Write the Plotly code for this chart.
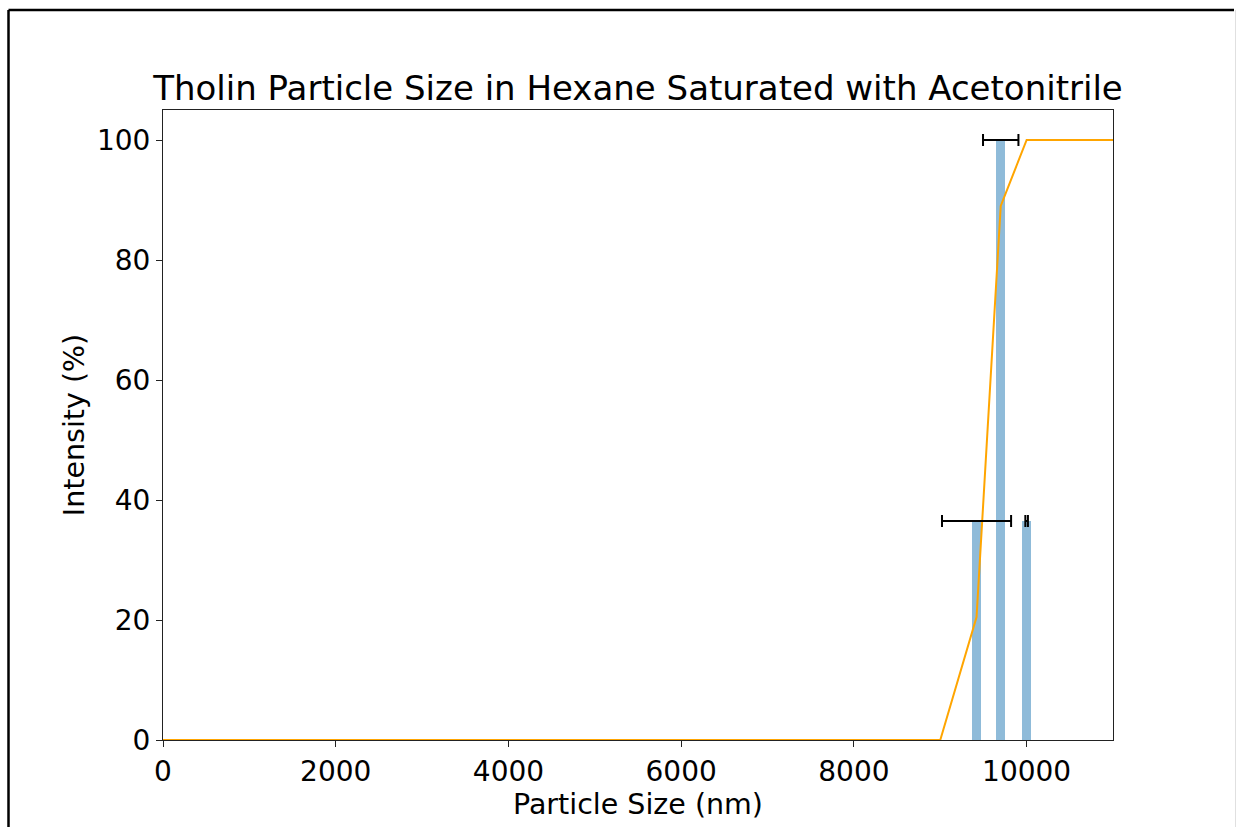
import plotly.graph_objects as go

# Particle size bins (nm) and measured intensity (%)
sizes = [9420, 9700, 10000]
intensity = [36.5, 100, 36.5]
size_err = [400, 205, 15]

# Cumulative intensity curve (%)
cum_sizes = [0, 9000, 9420, 9700, 10000, 11000]
cum_intensity = [0, 0, 20.5, 89, 100, 100]

x_ticks = [0, 2000, 4000, 6000, 8000, 10000]
x_tick_labels = ["0", "2000", "4000", "6000", "8000", "10000"]
y_ticks = [0, 20, 40, 60, 80, 100]

FONT = "DejaVu Sans"

fig = go.Figure()

fig.add_trace(go.Bar(
    x=sizes, y=intensity, width=100,
    marker=dict(color="rgba(31,119,180,0.5)", line=dict(width=0)),
    showlegend=False,
))

fig.add_trace(go.Scatter(
    x=cum_sizes, y=cum_intensity, mode="lines",
    line=dict(color="orange", width=2),
    showlegend=False,
))

fig.add_trace(go.Scatter(
    x=sizes, y=intensity, mode="markers",
    marker=dict(size=0.1, color="rgba(0,0,0,0)"),
    error_x=dict(type="data", array=size_err, color="black", thickness=2, width=6),
    showlegend=False,
))

# Outer figure frame
L, R, T, B = 163, 1113, 110, 740
W, H = 1236, 827
def px_x(p):
    return (p - L) / (R - L)
def px_y(p):
    return (B - p) / (B - T)

fig.add_shape(type="line", xref="paper", yref="paper",
              x0=px_x(1235.5), x1=px_x(1235.5), y0=px_y(10), y1=px_y(840),
              line=dict(color="#e0e0e0", width=1))
fig.add_shape(type="line", xref="paper", yref="paper",
              x0=px_x(8.5), x1=px_x(8.5), y0=px_y(840), y1=px_y(10),
              line=dict(color="black", width=2.5))
fig.add_shape(type="line", xref="paper", yref="paper",
              x0=px_x(8.5), x1=px_x(1234), y0=px_y(10), y1=px_y(10),
              line=dict(color="black", width=2.5))

axis_common = dict(
    showline=True, linecolor="#222222", linewidth=1, mirror=True,
    ticks="outside", ticklen=6, tickcolor="#222222", tickwidth=1,
    showgrid=False, zeroline=False,
    tickfont=dict(family=FONT, size=28, color="black"),
)

fig.update_layout(
    width=W, height=H,
    margin=dict(l=L, r=W - R, t=T, b=H - B),
    plot_bgcolor="white", paper_bgcolor="white",
    font=dict(family=FONT, color="black"),
    title=dict(
        text="Tholin Particle Size in Hexane Saturated with Acetonitrile",
        font=dict(family=FONT, size=34, color="black"),
        x=0.5, xanchor="center", xref="paper",
        y=1, yanchor="bottom", yref="paper", pad=dict(b=10),
    ),
    xaxis=dict(
        range=[0, 11000], tickvals=x_ticks, ticktext=x_tick_labels,
        title=dict(text="Particle Size (nm)", font=dict(family=FONT, size=28.5), standoff=0),
        **axis_common,
    ),
    yaxis=dict(
        range=[0, 105], tickvals=y_ticks,
        title=dict(text="Intensity (%)", font=dict(family=FONT, size=28.5), standoff=3),
        **axis_common,
    ),
    bargap=0,
)

fig.write_html("out.html")
